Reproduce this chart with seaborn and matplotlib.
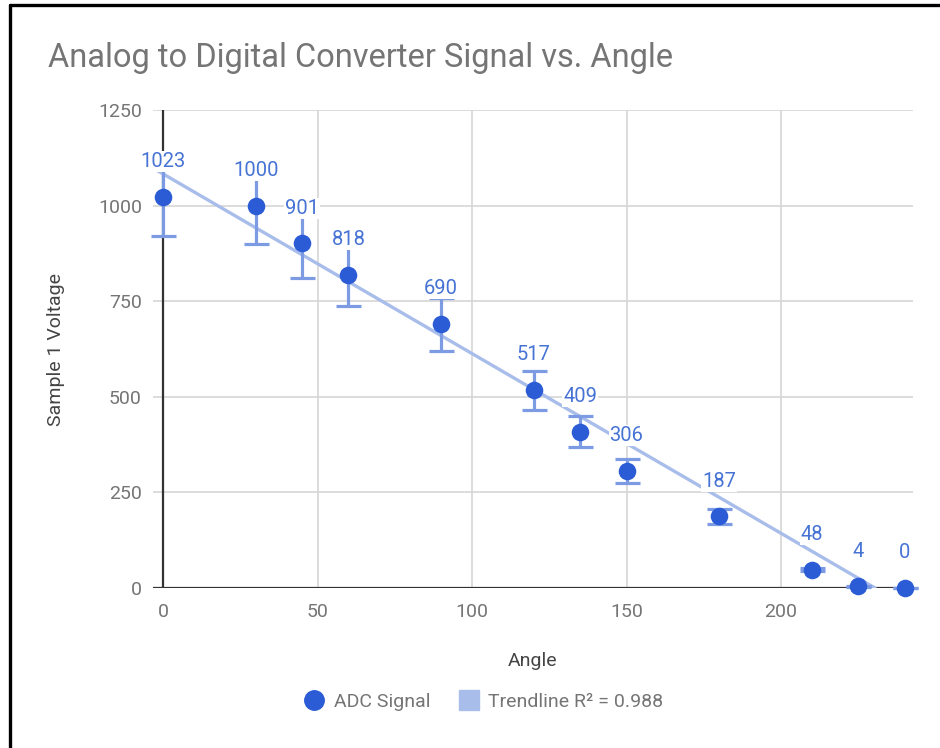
import numpy as np
import pandas as pd
import matplotlib
matplotlib.use("Agg")
import matplotlib.pyplot as plt
from matplotlib.lines import Line2D
import seaborn as sns

# dados
angulos = [0, 30, 45, 60, 90, 120, 135, 150, 180, 210, 225, 240]
sinal_adc = [1023, 1000, 901, 818, 690, 517, 409, 306, 187, 48, 4, 0]
erro_pct = 0.10
# linha de tendencia como aparece no grafico (inclinacao, intercepto)
tendencia = (-4.70, 1083)
r2_texto = "0.988"

x_ticks = [0, 50, 100, 150, 200]
y_ticks = [0, 250, 500, 750, 1000, 1250]

AZUL = "#2b5cd6"
AZUL_ERRO = "#7c9be2"
AZUL_TEXTO = "#4673d4"
AZUL_TREND = "#a9bdeb"
CINZA = "#757575"

sns.set_theme(style="white")
plt.rcParams["font.family"] = ["Roboto", "DejaVu Sans"]

df = pd.DataFrame({"angulo": angulos, "sinal": sinal_adc})
df["erro"] = df["sinal"] * erro_pct

fig = plt.figure(figsize=(9.4, 7.48), dpi=100)
W, H = 940, 748
ax = fig.add_axes([153 / W, (H - 588) / H, (913 - 153) / W, (588 - 110) / H])

ax.set_xlim(-3.24, 242.7)
ax.set_ylim(0, 1250)

# grade
for xv in x_ticks:
    ax.axvline(xv, color="#d6d6d6", lw=1.2, zorder=0)
for yv in y_ticks:
    ax.axhline(yv, color="#d6d6d6", lw=1.2, zorder=0)
ax.axhline(0, color="#333333", lw=1.6, zorder=1)
ax.axvline(0, color="#333333", lw=1.6, zorder=1)

# linha de tendencia
inc, icp = tendencia
x_fim = -icp / inc
xs = np.linspace(ax.get_xlim()[0], x_fim, 50)
df_trend = pd.DataFrame({"angulo": xs, "sinal": icp + inc * xs})
sns.lineplot(data=df_trend, x="angulo", y="sinal", ax=ax, color=AZUL_TREND,
             lw=2.4, zorder=2, legend=False)

# barras de erro
ax.errorbar(df["angulo"], df["sinal"], yerr=df["erro"], fmt="none",
            ecolor=AZUL_ERRO, elinewidth=2.3, capsize=9, capthick=2.3,
            zorder=3, clip_on=False)

sns.scatterplot(data=df, x="angulo", y="sinal", ax=ax, color=AZUL, s=160,
                edgecolor=AZUL, linewidth=0, zorder=4, clip_on=False, legend=False)

for _, row in df.iterrows():
    ax.annotate(f"{int(row['sinal'])}", (row["angulo"], row["sinal"]),
                xytext=(0, 25.5), textcoords="offset points", ha="center", va="center",
                fontsize=14.5, color=AZUL_TEXTO, zorder=6,
                bbox=dict(boxstyle="square,pad=0.05", fc="white", ec="none"),
                annotation_clip=False)

ax.set_xticks(x_ticks)
ax.set_yticks(y_ticks)
ax.tick_params(axis="both", length=0, labelsize=14, labelcolor=CINZA)
ax.tick_params(axis="x", pad=11)
ax.tick_params(axis="y", pad=8)
sns.despine(ax=ax, left=True, bottom=True)

ax.set_xlabel("Angle", fontsize=14, color="#444444", labelpad=22)
ax.set_ylabel("Sample 1 Voltage", fontsize=14, color="#444444", labelpad=24)

fig.text(48 / W, 1 - 58 / H, "Analog to Digital Converter Signal vs. Angle",
         fontsize=23.5, color=CINZA, ha="left", va="center")

handles = [
    Line2D([], [], marker="o", ls="none", color=AZUL, markersize=14),
    Line2D([], [], marker="s", ls="none", color=AZUL_TREND, markersize=14),
]
fig.legend(handles, ["ADC Signal", f"Trendline R\u00b2 = {r2_texto}"],
           loc="center", bbox_to_anchor=(483 / W, 1 - 702 / H), ncol=2,
           frameon=False, fontsize=14, labelcolor=CINZA,
           handletextpad=0.4, columnspacing=1.4, handlelength=1.2)

# moldura do print (topo e esquerda)
fig.add_artist(Line2D([9.5 / W, 9.5 / W], [0, 1 - 5 / H], color="black", lw=2.4,
                      transform=fig.transFigure))
fig.add_artist(Line2D([9.5 / W, 1], [1 - 5 / H, 1 - 5 / H], color="black", lw=2.4,
                      transform=fig.transFigure))

fig.savefig("out.png", dpi=100, facecolor="white")
